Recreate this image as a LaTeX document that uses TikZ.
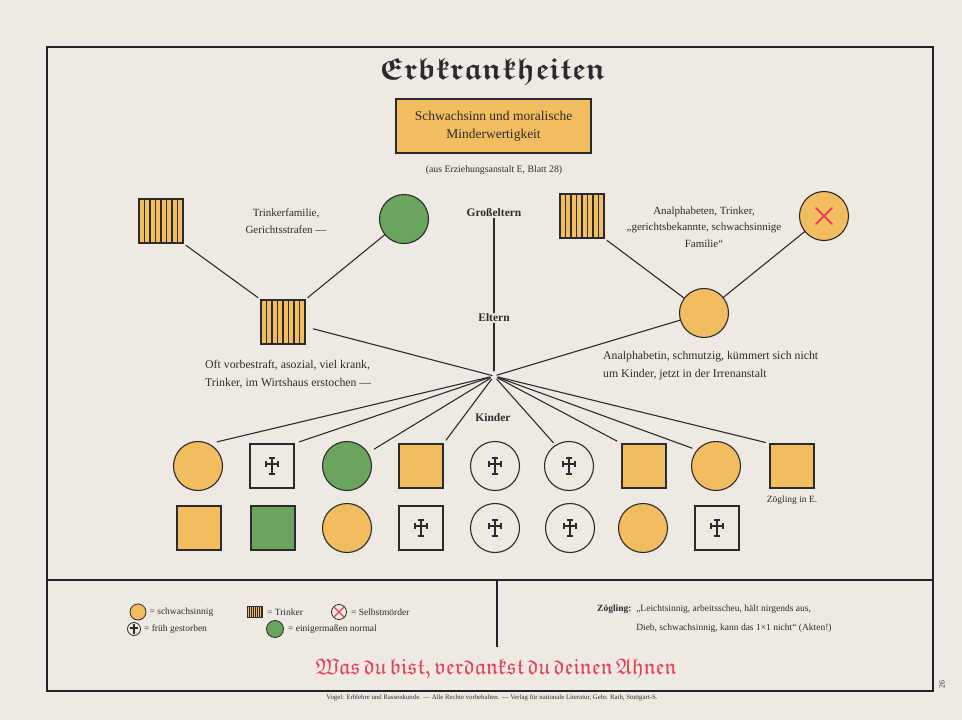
\documentclass[tikz,border=0pt]{standalone}
\usepackage{fontspec}
\setmainfont{Liberation Serif}
\usepackage{tikz}
\usetikzlibrary{positioning}
\newcommand\frakschrift[1]{\usefont{U}{euf}{#1}{n}\spaceskip=.32em plus .1em\relax}
\definecolor{papier}{HTML}{EEEAE3}
\definecolor{tinte}{HTML}{2B2A2F}
\definecolor{rahmen}{HTML}{232228}
\definecolor{gelb}{HTML}{F2BD5E}
\definecolor{gruen}{HTML}{6BA45C}
\definecolor{rot}{HTML}{E0435A}
\tikzset{
  linie/.style={draw=tinte, line width=1.1pt, line cap=round},
  rahmenlinie/.style={draw=rahmen, line width=2.2pt},
  mann/.style={rectangle, draw=tinte, line width=1.1pt, minimum size=44pt, inner sep=0pt},
  frau/.style={circle, draw=tinte, line width=1.1pt, minimum size=49pt, inner sep=0pt},
  trinker/.style={fill=gelb, path picture={
      \foreach \s in {-3,...,3}
        \draw[tinte, line width=#1/4.2] ([xshift=\s*#1]path picture bounding box.north) -- ([xshift=\s*#1]path picture bounding box.south);}},
  trinker/.default=5.5pt,
  kreuz/.pic={
    \draw[tinte, line width=2pt] (0,-8) -- (0,8) (-6,-2) -- (6,-2);
    \draw[tinte, line width=1.2pt] (-2.8,-8) -- (2.8,-8) (-2.8,8) -- (2.8,8) (-6,-4.8) -- (-6,0.8) (6,-4.8) -- (6,0.8);},
  gestorben/.style={fill=papier, path picture={\pic[scale=#1] at (path picture bounding box.center) {kreuz};}},
  gestorben/.default=1,
  gelbfrau/.style={frau, fill=gelb},
  gelbmann/.style={mann, fill=gelb},
  gruenfrau/.style={frau, fill=gruen},
  gruenmann/.style={mann, fill=gruen},
  totfrau/.style={frau, gestorben},
  totmann/.style={mann, gestorben},
  selbstmord/.style={draw=rot, line width=#1, line cap=round},
  lab/.style={text=tinte, font=\fontsize{11}{16.5}\selectfont, align=center, inner sep=1pt},
  labgross/.style={lab, font=\fontsize{11.8}{18}\selectfont},
  stufe/.style={lab, font=\bfseries\fontsize{11.5}{14}\selectfont},
  legtext/.style={lab, font=\fontsize{9.5}{17}\selectfont},
  legsym/.style={circle, draw=tinte, line width=0.8pt, minimum size=16pt, inner sep=0pt},
}
\begin{document}
\begin{tikzpicture}[x=1pt,y=-1pt]
  \fill[papier] (0,0) rectangle (962,720);
  \useasboundingbox (0,0) rectangle (962,720);
  % Rahmen
  \draw[rahmenlinie] (47,47) rectangle (933,691);
  \draw[rahmenlinie] (47,580) -- (933,580);
  \draw[rahmenlinie] (497,580) -- (497,647);

  % Kopf
  \node[lab, font=\frakschrift{b}\fontsize{30.5}{36}\selectfont] (titel) at (493,72) {Erbkrankheiten};
  \node[draw=tinte, line width=1.8pt, fill=gelb, minimum width=195pt, minimum height=54pt,
        lab, font=\fontsize{13.5}{18}\selectfont] (kasten) at (493.5,126)
        {Schwachsinn und moralische\\Minderwertigkeit};
  \node[lab, font=\fontsize{9.8}{10}\selectfont] (quelle) at (494,170) {(aus Erziehungsanstalt E, Blatt 28)};

  % Grosseltern
  \node[mann, trinker] (gvl) at (161,221) {};
  \node[gruenfrau] (gml) at (404,219) {};
  \node[mann, trinker] (gvr) at (582,216) {};
  \node[gelbfrau] (gmr) at (824,216) {};
  \draw[selbstmord=2pt] ([shift={(-8,-8)}]gmr.center) -- ([shift={(8,8)}]gmr.center)
                        ([shift={(-8,8)}]gmr.center) -- ([shift={(8,-8)}]gmr.center);
  \node[lab] (tlinks) at (286,221) {Trinkerfamilie,\\Gerichtsstrafen —};
  \node[lab] (trechts) at (704,227) {Analphabeten, Trinker,\\„gerichtsbekannte, schwachsinnige\\Familie“};
  \node[stufe] (grosseltern) at (494,213) {Großeltern};

  % Eltern
  \node[mann, trinker] (vater) at (283,322) {};
  \node[gelbfrau] (mutter) at (704,313) {};
  \node[stufe] (eltern) at (494,318) {Eltern};
  \coordinate (mitte) at (494,376);
  \node[labgross, align=left, anchor=west] (tvater) at (204,374) {Oft vorbestraft, asozial, viel krank,\\Trinker, im Wirtshaus erstochen —};
  \node[labgross, align=left, anchor=west] (tmutter) at (602,366) {Analphabetin, schmutzig, kümmert sich nicht\\um Kinder, jetzt in der Irrenanstalt};

  \draw[linie, shorten <=3pt, shorten >=3pt] (gvl.south east) -- (vater.north west);
  \draw[linie, shorten >=3pt] (gml) -- (vater.north east);
  \draw[linie, shorten <=3pt] (gvr.south east) -- (mutter);
  \draw[linie] (gmr) -- (mutter);
  \draw[linie] (grosseltern) -- (eltern);
  \draw[linie, shorten >=5pt] (eltern) -- (mitte);
  \draw[linie, shorten <=8pt, shorten >=2pt] (vater.-12) -- (mitte);
  \draw[linie, shorten >=3pt] (mutter) -- (mitte);

  % Kinder
  \node[stufe] (kinder) at (493,418) {Kinder};
  \foreach \n/\x/\art in {1/198/gelbfrau, 2/272/totmann, 3/347/gruenfrau, 4/421/gelbmann, 5/495/totfrau,
                          6/569/totfrau, 7/644/gelbmann, 8/716/gelbfrau, 9/792/gelbmann}
    \node[\art] (ka\n) at (\x,466) {};
  \foreach \n/\x/\art in {1/199/gelbmann, 2/273/gruenmann, 3/347/gelbfrau, 4/421/totmann,
                          5/495/totfrau, 6/570/totfrau, 7/643/gelbfrau, 8/717/totmann}
    \node[\art] (kb\n) at (\x,528) {};
  \foreach \n/\a/\k in {1/63/8, 2/north east/5, 3/32/7, 4/north east/4,
                        6/123/3, 7/north west/5, 8/140/5, 9/north west/4}
    \draw[linie, shorten <=4pt, shorten >=\k pt] (mitte) -- (ka\n.\a);
  \node[lab, font=\fontsize{9.5}{10}\selectfont] (zoegling) at (792,500) {Zögling in E.};

  % Zeichenerklaerung
  \node[legsym, fill=gelb] (l1) at (138,612) {};
  \node[legtext, right=2pt of l1] (l1t) {= schwachsinnig};
  \node[rectangle, draw=tinte, line width=0.8pt, minimum width=15pt, minimum height=11pt, inner sep=0pt,
        trinker=2pt] (l2) at (255,612) {};
  \node[legtext, right=3pt of l2] (l2t) {= Trinker};
  \node[legsym, fill=papier, minimum size=15pt] (l3) at (339,612) {};
  \draw[selbstmord=1.2pt] ([shift={(-4.5,-4.5)}]l3.center) -- ([shift={(4.5,4.5)}]l3.center)
                          ([shift={(-4.5,4.5)}]l3.center) -- ([shift={(4.5,-4.5)}]l3.center);
  \node[legtext, right=3pt of l3] (l3t) {= Selbstmörder};
  \node[legsym, gestorben=0.5, minimum size=13pt] (l4) at (134,629) {};
  \node[legtext, right=2pt of l4] (l4t) {= früh gestorben};
  \node[legsym, fill=gruen, minimum size=17pt] (l5) at (275,629) {};
  \node[legtext, right=3pt of l5] (l5t) {= einigermaßen normal};

  \node[legtext, anchor=west, inner sep=0pt] (zakte) at (597,618)
       {\begin{tabular}{@{}l@{\ \ }l@{}}
          \bfseries Zögling: & „Leichtsinnig, arbeitsscheu, hält nirgends aus,\\[2pt]
                             & Dieb, schwachsinnig, kann das 1×1 nicht“ (Akten!)
        \end{tabular}};

  % Fuss
  \node[lab, text=rot, font=\frakschrift{m}\fontsize{22.5}{24}\selectfont] (spruch) at (496,669) {Was du bist, verdankst du deinen Ahnen};
  \node[lab, font=\fontsize{6.8}{7}\selectfont] (verlag) at (492,698)
       {Vogel: Erblehre und Rassenkunde. — Alle Rechte vorbehalten. — Verlag für nationale Literatur, Gebr. Rath, Stuttgart-S.};
  \node[lab, rotate=90, font=\fontsize{8}{8}\selectfont] (seite) at (942,684) {26};
\end{tikzpicture}
\end{document}
